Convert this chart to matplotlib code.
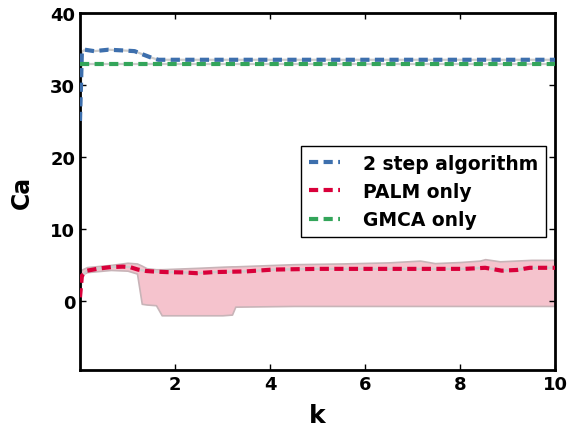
import matplotlib
matplotlib.use("Agg")
import matplotlib.pyplot as plt
import numpy as np

# ---- data ----
k_blue = [0.0, 0.04, 0.1, 0.3, 0.6, 0.9, 1.15, 1.3, 1.5, 1.65, 10.0]
ca_blue = [25.0, 34.6, 34.9, 34.7, 34.9, 34.8, 34.7, 34.3, 33.8, 33.5, 33.5]

k_green = [0.0, 10.0]
ca_green = [32.9, 32.9]

k_red = [0.0, 0.04, 0.15, 0.4, 0.65, 0.9, 1.05, 1.22, 1.4, 1.58, 1.83, 2.2, 2.46,
         2.8, 3.5, 4.06, 4.5, 5.0, 6.0, 7.0, 8.1, 8.53, 8.88, 9.2, 9.47, 10.0]
ca_red = [0.5, 3.5, 4.2, 4.5, 4.7, 4.76, 4.7, 4.35, 4.15, 4.07, 4.0, 3.95, 3.85,
          4.0, 4.1, 4.35, 4.4, 4.45, 4.45, 4.45, 4.45, 4.6, 4.2, 4.3, 4.6, 4.6]

k_band = [0.02, 0.15, 0.65, 1.0, 1.2, 1.3, 1.4, 1.6, 1.72, 2.5, 3.0, 3.2, 3.27,
          4.5, 5.5, 6.5, 7.16, 7.47, 8.0, 8.42, 8.53, 8.84, 9.5, 10.0]
band_lo = [3.6, 4.0, 4.3, 4.2, 3.8, -0.4, -0.5, -0.6, -2.0, -2.0, -2.0, -1.9, -0.8,
           -0.7, -0.7, -0.7, -0.7, -0.7, -0.7, -0.7, -0.7, -0.7, -0.7, -0.7]
band_hi = [4.3, 4.7, 5.0, 5.3, 5.2, 4.9, 4.55, 4.4, 4.4, 4.6, 4.75, 4.8, 4.8,
           5.1, 5.2, 5.35, 5.6, 5.25, 5.4, 5.6, 5.8, 5.5, 5.7, 5.7]

labels = ["2 step algorithm", "PALM only", "GMCA only"]
colors = ["#3d6fad", "#d9003a", "#33a55a"]

# ---- plot ----
plt.rcParams['font.family'] = ['DejaVu Sans']
plt.rcParams['font.weight'] = 'bold'
fig = plt.figure(figsize=(5.8, 4.31), dpi=100)
ax = fig.add_axes([80/580, 60/431, 475/580, 357/431])

ax.fill_between(k_band, band_lo, band_hi, facecolor="#f5c3cd", edgecolor="#c8b4b8",
                linewidth=1.2, zorder=1)

dash = (0, (2.2, 1.3))
for kk, vv, col, lab in [(k_blue, ca_blue, colors[0], labels[0]),
                         (k_red, ca_red, colors[1], labels[1]),
                         (k_green, ca_green, colors[2], labels[2])]:
    ax.plot(kk, vv, color="#cccccc", lw=1.6, zorder=2)
    ax.plot(kk, vv, color=col, lw=3, linestyle=dash, label=lab, zorder=3)

ax.set_xlim(0.0, 10.0)
ax.set_ylim(-9.6, 40)
ax.set_xticks([2, 4, 6, 8, 10])
ax.set_yticks([0, 10, 20, 30, 40])
ax.tick_params(direction='in', length=4, width=1, labelsize=13, top=True, right=True)
for lbl in ax.get_xticklabels() + ax.get_yticklabels():
    lbl.set_fontweight('bold')
for s in ax.spines.values():
    s.set_linewidth(2)

ax.set_xlabel("k", fontsize=18, fontweight='bold', labelpad=7)
ax.set_ylabel("Ca", fontsize=17, fontweight='bold', labelpad=12)

leg = ax.legend(loc='center right', bbox_to_anchor=(1.0, 0.50),
                prop={'weight': 'bold', 'size': 13.5}, fancybox=False,
                edgecolor='black', framealpha=1, handlelength=1.7,
                handletextpad=1.2)
leg.get_frame().set_linewidth(1.0)

fig.savefig("out.png", dpi=100)
